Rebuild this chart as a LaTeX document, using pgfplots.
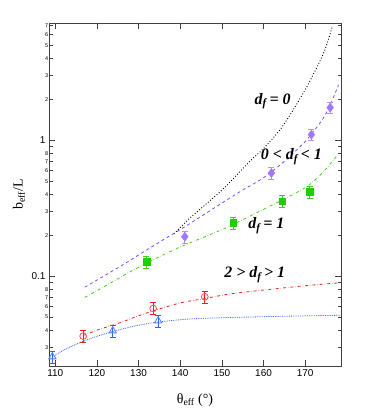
\documentclass[border=0pt]{standalone}
\usepackage{fontspec}
\setmainfont{Liberation Serif}
\newfontfamily\sansfont{Liberation Sans}
\usepackage{pgfplots}
\pgfplotsset{compat=1.18}

\definecolor{purpm}{HTML}{A078FA}
\definecolor{purpl}{HTML}{6A50FF}
\definecolor{grnm}{HTML}{22CC00}
\definecolor{grnl}{HTML}{44CC22}
\definecolor{redm}{HTML}{FF5050}
\definecolor{redl}{HTML}{E82020}
\definecolor{blum}{HTML}{5080FF}
\definecolor{blul}{HTML}{3060FF}

\newcommand{\df}{\textit{d}\textsubscript{\textit{f}}}

\pgfplotsset{
    errs/.style={
        error bars/y dir=both,
        error bars/y fixed relative=0.1,
        error bars/error bar style={color=#1, line width=0.8pt},
        error bars/error mark options={rotate=90, mark size=3bp, color=#1, line width=0.8pt},
    },
}

\begin{document}
\begin{tikzpicture}
\begin{axis}[
    scale only axis,
    width=292bp, height=343bp,
    ymode=log,
    xmin=108.5, xmax=178.6,
    ymin=0.0218, ymax=7.3,
    xtick={110,120,...,170},
    ytick={0.1,1},
    yticklabels={0.1,1},
    minor ytick={},
    extra y ticks={0.03,0.04,0.05,0.06,0.07,0.08,0.09,0.2,0.3,0.4,0.5,0.6,0.7,0.8,0.9,2,3,4,5,6,7},
    extra y tick labels={3,4,5,6,7,8,{},2,3,4,5,6,7,8,{},2,3,4,5,6,7},
    extra y tick style={
        major tick length=3.5bp,
        tick label style={font=\fontsize{5.5}{6}\sansfont, inner sep=0.6bp},
    },
    tick align=inside,
    major tick length=6bp,
    tick style={black!75, line width=0.7pt},
    axis line style={black!75, line width=0.9pt},
    tick label style={font=\fontsize{10}{12}\sansfont},
    /pgf/number format/assume math mode=true,
    x tick label style={/pgf/number format/1000 sep={}},
    xlabel={θ\textsubscript{eff} (°)},
    ylabel={b\textsubscript{eff}/L},
    label style={font=\fontsize{14}{16}\selectfont},
    xlabel style={at={(axis description cs:0.5,-0.1)}, anchor=center},
    ylabel style={at={(axis description cs:-0.103,0.5)}, anchor=center},
]

% model curves
\addplot[black, dotted, line width=0.9pt, smooth] coordinates {
(138.5,0.205)(142,0.262)(146,0.335)(150.7,0.45)(156.7,0.70)(160,0.87)(164,1.2)
(167,1.65)(170.3,2.45)(172.5,3.3)(174.3,4.3)(175.5,5.4)(176.5,6.9)};

\addplot[purpl, dashed, line width=0.8pt, smooth] coordinates {
(117.1,0.083)(125,0.115)(130,0.143)(135,0.178)(140,0.22)(145,0.275)(150,0.345)
(155,0.43)(160,0.53)(165,0.70)(170,0.98)(174,1.4)(176,1.82)(178,2.55)};

\addplot[grnl, dash dot, line width=0.8pt, smooth] coordinates {
(117.1,0.0697)(122,0.0845)(129,0.112)(136.3,0.145)(140,0.164)(145,0.19)(150,0.22)
(155,0.26)(160,0.31)(165,0.37)(170.3,0.454)(174,0.57)(177.8,0.78)};

\addplot[redl, dash dot, line width=0.8pt, smooth] coordinates {
(116.7,0.0365)(120,0.040)(125,0.0448)(130,0.051)(133.5,0.0555)(140,0.0635)
(146,0.0685)(152,0.074)(160,0.079)(170,0.085)(178.6,0.0895)};

\addplot[blul, densely dotted, line width=0.8pt, smooth] coordinates {
(108.5,0.0245)(112,0.0285)(116,0.0325)(120,0.036)(124,0.0393)(130,0.0435)
(135,0.046)(142,0.0483)(150,0.0494)(160,0.0503)(170,0.051)(178.6,0.0515)};

% data points
\addplot[only marks, mark=diamond*, mark size=4.5bp, color=purpm, errs=purpm!80]
    coordinates {(141.1,0.195)(161.9,0.575)(171.5,1.10)(176.0,1.74)};

\addplot[only marks, mark=square*, mark size=3.4bp, color=grnm, errs=grnl]
    coordinates {(131.9,0.127)(152.7,0.247)(164.5,0.356)(171.1,0.417)};

\addplot[only marks, mark=o, mark size=3.4bp, color=redm, mark options={line width=0.8pt}, errs=redl]
    coordinates {(116.7,0.0362)(133.5,0.0578)(145.9,0.0705)};

\addplot[only marks, mark=triangle, mark size=4.2bp, color=blum, mark options={line width=0.8pt}, errs=blul]
    coordinates {(109.3,0.0255)(123.8,0.0396)(134.7,0.0469)};

% curve labels
\node[anchor=base, font=\fontsize{16}{18}\bfseries\itshape] at (axis cs:162.2,1.84) {\df\,= 0};
\node[anchor=base, font=\fontsize{16}{18}\bfseries\itshape] at (axis cs:166.7,0.721) {0 < \df\,< 1};
\node[anchor=base, font=\fontsize{16}{18}\bfseries\itshape] at (axis cs:160.7,0.224) {\df\,= 1};
\node[anchor=base, font=\fontsize{16}{18}\bfseries\itshape] at (axis cs:157.9,0.0972) {2 > \df\,> 1};

\end{axis}
\pgfresetboundingbox
\path (current axis.south west) ++(-49bp,-52bp) rectangle ++(374bp,418bp);
\end{tikzpicture}
\end{document}
